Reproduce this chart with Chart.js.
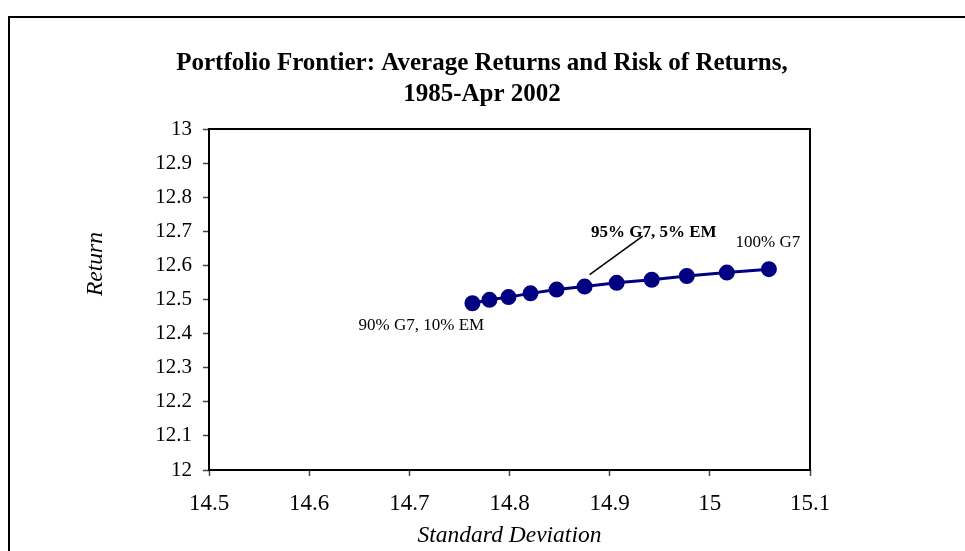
<!DOCTYPE html>
<html>
<head>
<meta charset="utf-8">
<script src="https://cdn.jsdelivr.net/npm/chart.js@4"></script>
<style>
  body { margin: 0; background: #fff; }
  #wrap { width: 965px; height: 551px; position: relative; }
</style>
</head>
<body>
<div id="wrap"><canvas id="myChart" width="965" height="551"></canvas></div>
<script>
// standard deviation (x) and return (y) for each portfolio mix
const stdDev = [14.763, 14.780, 14.799, 14.821, 14.847, 14.875, 14.907, 14.942, 14.977, 15.017, 15.059];
const returns = [12.489, 12.499, 12.507, 12.518, 12.529, 12.538, 12.549, 12.558, 12.569, 12.579, 12.589];
const xTicks = [14.5, 14.6, 14.7, 14.8, 14.9, 15, 15.1];
const yTicks = [12, 12.1, 12.2, 12.3, 12.4, 12.5, 12.6, 12.7, 12.8, 12.9, 13];
const titleLines = ["Portfolio Frontier: Average Returns and Risk of Returns,", "1985-Apr 2002"];

const serif = "'Liberation Serif', 'Times New Roman', serif";

// text labels on the curve (data coordinates of label centre)
const notes = [
  { text: "90% G7, 10% EM", x: 14.712, y: 12.425, bold: false },
  { text: "95% G7, 5% EM", x: 14.944, y: 12.695, bold: true },
  { text: "100% G7", x: 15.058, y: 12.666, bold: false }
];

const decorPlugin = {
  id: 'decor',
  afterDraw(chart) {
    const ctx = chart.ctx;
    const xs = chart.scales.x, ys = chart.scales.y;
    const a = chart.chartArea;
    ctx.save();
    // outer frame
    ctx.strokeStyle = '#000';
    ctx.lineWidth = 2;
    ctx.beginPath();
    ctx.moveTo(9, 560);
    ctx.lineTo(9, 17);
    ctx.lineTo(970, 17);
    ctx.stroke();
    // plot box
    ctx.strokeRect(a.left, a.top, a.right - a.left, a.bottom - a.top);
    // title
    ctx.fillStyle = '#000';
    ctx.textAlign = 'center';
    ctx.textBaseline = 'alphabetic';
    ctx.font = 'bold 25px ' + serif;
    ctx.fillText(titleLines[0], 482, 70);
    ctx.fillText(titleLines[1], 482, 101);
    // axis titles
    ctx.textBaseline = 'middle';
    ctx.font = 'italic 23.5px ' + serif;
    ctx.fillText('Standard Deviation', (a.left + a.right) / 2, 536);
    ctx.save();
    ctx.translate(96, 264);
    ctx.rotate(-Math.PI / 2);
    ctx.fillText('Return', 0, 0);
    ctx.restore();
    // notes
    notes.forEach(n => {
      ctx.font = (n.bold ? 'bold ' : '') + '17px ' + serif;
      ctx.fillText(n.text, xs.getPixelForValue(n.x), ys.getPixelForValue(n.y));
    });
    // leader line for the 95% label
    ctx.lineWidth = 1.5;
    ctx.beginPath();
    ctx.moveTo(xs.getPixelForValue(14.88), ys.getPixelForValue(12.573));
    ctx.lineTo(xs.getPixelForValue(14.933), ys.getPixelForValue(12.686));
    ctx.stroke();
    ctx.restore();
  }
};

new Chart(document.getElementById('myChart').getContext('2d'), {
  type: 'scatter',
  data: {
    datasets: [{
      label: 'Frontier',
      data: stdDev.map((v, i) => ({ x: v, y: returns[i] })),
      showLine: true,
      borderColor: '#000080',
      backgroundColor: '#000080',
      borderWidth: 3,
      pointRadius: 6.5,
      pointHoverRadius: 6.5,
      pointBackgroundColor: '#000080',
      pointBorderColor: '#000080'
    }]
  },
  options: {
    responsive: false,
    animation: false,
    layout: { padding: { top: 129, right: 155, left: 0, bottom: 0 } },
    plugins: { legend: { display: false }, tooltip: { enabled: false } },
    scales: {
      x: {
        type: 'linear',
        min: 14.5, max: 15.1,
        afterBuildTicks: s => { s.ticks = xTicks.map(v => ({ value: v })); },
        afterFit: s => { s.height = 81; },
        grid: { drawOnChartArea: false, tickLength: 6, color: '#444', tickWidth: 1.5 },
        border: { display: false },
        ticks: { color: '#000', font: { family: serif, size: 23 }, padding: 14, maxRotation: 0,
          callback: v => String(v) }
      },
      y: {
        type: 'linear',
        min: 12, max: 13,
        afterBuildTicks: s => { s.ticks = yTicks.map(v => ({ value: v })); },
        afterFit: s => { s.width = 209; },
        grid: { drawOnChartArea: false, tickLength: 6, color: '#444', tickWidth: 1.5 },
        border: { display: false },
        ticks: { color: '#000', font: { family: serif, size: 21 }, padding: 11,
          callback: v => String(v) }
      }
    }
  },
  plugins: [decorPlugin]
});
</script>
</body>
</html>
